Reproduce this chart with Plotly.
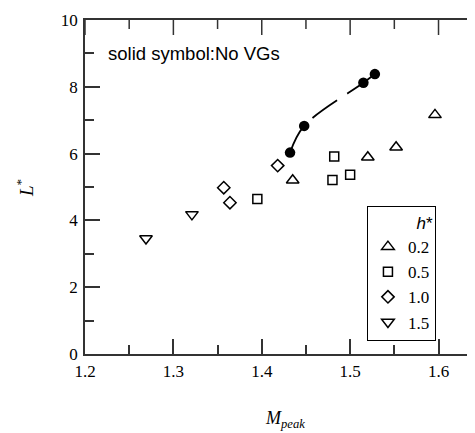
import plotly.graph_objects as go

# h* = 0.2 (open up-triangles)
h02_x = [1.435, 1.520, 1.552, 1.596]
h02_y = [5.20, 5.89, 6.19, 7.16]
# h* = 0.5 (open squares)
h05_x = [1.395, 1.480, 1.482, 1.500]
h05_y = [4.64, 5.21, 5.91, 5.37]
# h* = 1.0 (open diamonds)
h10_x = [1.357, 1.364, 1.418]
h10_y = [4.98, 4.53, 5.64]
# h* = 1.5 (open down-triangles)
h15_x = [1.269, 1.321]
h15_y = [3.46, 4.18]
# No VGs (solid circles)
novg_x = [1.432, 1.448, 1.515, 1.528]
novg_y = [6.03, 6.83, 8.12, 8.38]

legend_names = ["0.2", "0.5", "1.0", "1.5"]
x_ticks = [1.2, 1.3, 1.4, 1.5, 1.6]
x_minor = [1.25, 1.35, 1.45, 1.55, 1.65]
y_ticks = [0, 2, 4, 6, 8, 10]
y_minor = [1, 3, 5, 7, 9]
X_RANGE = [1.2, 1.6492]
Y_RANGE = [0, 10]

# page body has an 8px margin; figure coordinates are shifted accordingly
OFF = 8
W, H = 490, 433
PL, PR, PT, PB = 85 - OFF, 482.5 - OFF, 20 - OFF, 354 - OFF
PW, PH = PR - PL, PB - PT

def px_x(p):  # viewport pixel -> paper x
    return (p - OFF - PL) / PW

def px_y(p):  # viewport pixel -> paper y
    return (PB - (p - OFF)) / PH

# tick lengths (pixels) converted to data units of each axis
X_PER_PX = (X_RANGE[1] - X_RANGE[0]) / PW
Y_PER_PX = (Y_RANGE[1] - Y_RANGE[0]) / PH
MAJOR_LEN, MINOR_LEN = 15, 9

LC = "#333"
fig = go.Figure()

# top / right inward ticks drawn as one-sided error bars hanging from the frame
for vals, ln in [(x_ticks, MAJOR_LEN), (x_minor, MINOR_LEN)]:
    fig.add_trace(go.Scatter(
        x=vals, y=[Y_RANGE[1]] * len(vals), mode="markers", showlegend=False, hoverinfo="skip",
        cliponaxis=False, marker=dict(size=1, color="rgba(0,0,0,0)"),
        error_y=dict(type="data", symmetric=False, array=[0] * len(vals),
                     arrayminus=[ln * Y_PER_PX] * len(vals), width=0, thickness=1.5, color=LC),
    ))
for vals, ln in [(y_ticks, MAJOR_LEN), (y_minor, MINOR_LEN)]:
    fig.add_trace(go.Scatter(
        x=[X_RANGE[1]] * len(vals), y=vals, mode="markers", showlegend=False, hoverinfo="skip",
        cliponaxis=False, marker=dict(size=1, color="rgba(0,0,0,0)"),
        error_x=dict(type="data", symmetric=False, array=[0] * len(vals),
                     arrayminus=[ln * X_PER_PX] * len(vals), width=0, thickness=1.5, color=LC),
    ))

fig.add_trace(go.Scatter(
    x=novg_x, y=novg_y, mode="lines+markers", showlegend=False,
    line=dict(color="black", width=1.8, dash="30px,12px", shape="spline"),
    marker=dict(symbol="circle", size=10.5, color="black"),
))

series = [
    (h02_x, h02_y, "triangle-up-open", 11),
    (h05_x, h05_y, "square-open", 9),
    (h10_x, h10_y, "diamond-open", 9.5),
    (h15_x, h15_y, "triangle-down-open", 11),
]
for (xs, ys, sym, sz), name in zip(series, legend_names):
    fig.add_trace(go.Scatter(
        x=xs, y=ys, mode="markers", name=name,
        marker=dict(symbol=sym, size=sz, color="black", line=dict(width=1.5, color="black")),
    ))

tick_common = dict(showgrid=False, zeroline=False, tickwidth=1.5, tickcolor=LC, automargin=False)
font_ticks = dict(family="Liberation Serif", size=17, color="black")

fig.update_layout(
    template="none",
    xaxis=dict(range=X_RANGE, tickvals=x_ticks, ticktext=[f"{v:.1f}" for v in x_ticks],
               ticks="inside", ticklen=MAJOR_LEN,
               showline=True, linecolor=LC, linewidth=1.5, mirror=True,
               tickfont=font_ticks, ticklabelstandoff=1,
               minor=dict(tickvals=x_minor, ticklen=MINOR_LEN, tickwidth=1.5, tickcolor=LC,
                          ticks="inside"),
               **tick_common),
    yaxis=dict(range=Y_RANGE, tickvals=y_ticks, ticktext=[str(v) for v in y_ticks],
               ticks="inside", ticklen=MAJOR_LEN,
               showline=True, linecolor=LC, linewidth=1.5, mirror=True,
               tickfont=font_ticks, ticklabelstandoff=2,
               minor=dict(tickvals=y_minor, ticklen=MINOR_LEN, tickwidth=1.5, tickcolor=LC,
                          ticks="inside"),
               **tick_common),
)

fig.add_annotation(x=1.224, y=9.01, xref="x", yref="y", text="solid symbol:No VGs",
                   showarrow=False, xanchor="left", yanchor="middle",
                   font=dict(family="Liberation Sans", size=18.5, color="black"))
fig.add_annotation(x=px_x(25), y=px_y(188), xref="paper", yref="paper", text="<i>L</i><sup>*</sup>",
                   showarrow=False, textangle=-90, xanchor="center", yanchor="middle",
                   font=dict(family="Liberation Serif", size=19, color="black"))
fig.add_annotation(x=px_x(263), y=px_y(419), xref="paper", yref="paper",
                   text="<i>M</i><sub><i>peak</i></sub>",
                   showarrow=False, xanchor="left", yanchor="middle",
                   font=dict(family="Liberation Serif", size=18, color="black"))

fig.update_layout(
    width=W, height=H,
    margin=dict(l=PL, r=W - PR, t=PT, b=H - PB, pad=0),
    plot_bgcolor="white", paper_bgcolor="white",
    showlegend=True,
    legend=dict(
        x=px_x(367.3), y=px_y(206), xanchor="left", yanchor="top",
        bordercolor="black", borderwidth=1, bgcolor="white",
        font=dict(family="Liberation Serif", size=17, color="black"),
        title=dict(text="<i>h</i>*", side="top right",
                   font=dict(family="Liberation Sans", size=17, color="black")),
        tracegroupgap=0,
    ),
)

fig.write_html("out.html", post_script="document.documentElement.style.overflow='hidden';document.body.style.overflow='hidden';")
